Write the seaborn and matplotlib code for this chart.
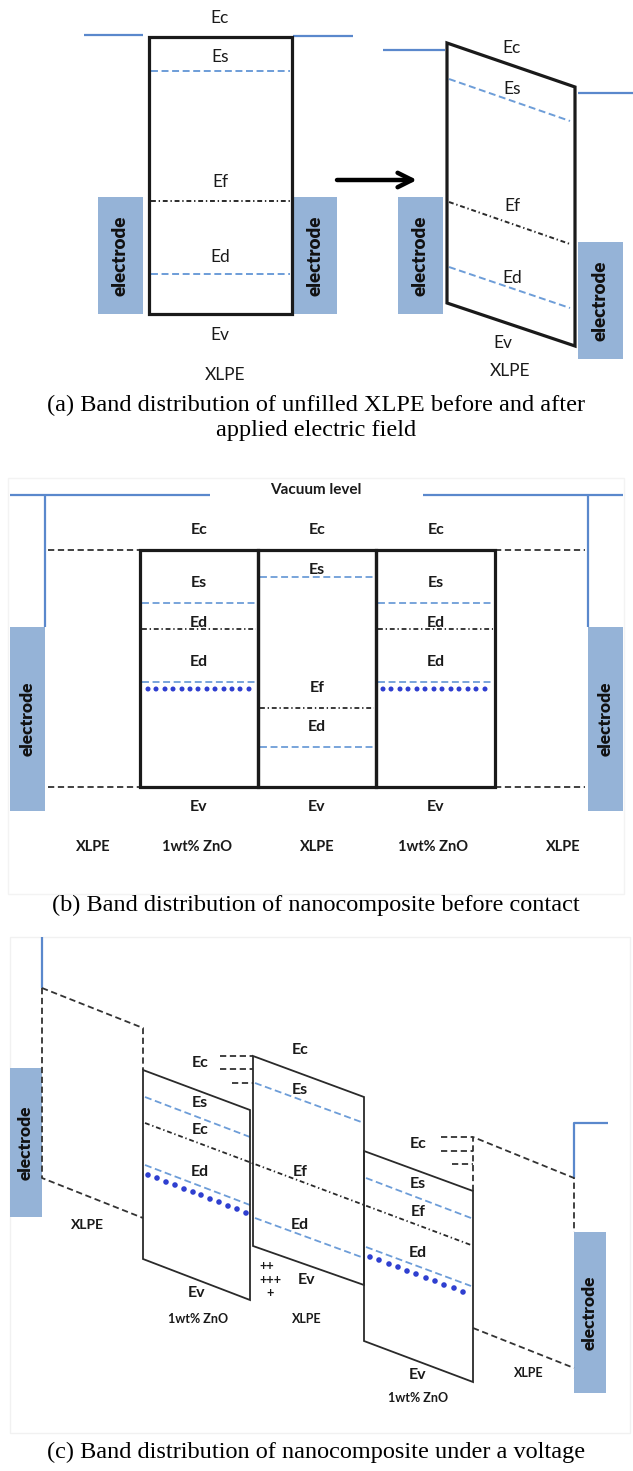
import matplotlib
matplotlib.use("Agg")
import matplotlib.pyplot as plt
import seaborn as sns
import pandas as pd
from matplotlib.patches import Rectangle, Polygon

# ---------------- data (pixel positions) ----------------
# Panel (a): unfilled XLPE before / after field
a_vac_lines = [[(84, 35), (143, 35)], [(293, 36), (353, 36)],
               [(383, 50), (445, 50)], [(578, 93), (633, 93)]]
a_boxes = [[(149, 37), (292, 37), (292, 314), (149, 314)],
           [(447, 43), (575, 87), (575, 346), (447, 303)]]
a_es_lines = [[(151, 71), (290, 71)], [(449, 79), (570, 121)]]
a_ef_lines = [[(151, 201), (290, 201)], [(449, 202), (570, 244)]]
a_ed_lines = [[(151, 274), (290, 274)], [(449, 267), (570, 308)]]
a_electrodes = [(98, 197, 45, 117), (293, 197, 44, 117),
                (398, 197, 45, 117), (578, 242, 45, 117)]
a_labels = ["Ec", "Es", "Ef", "Ed", "Ev", "XLPE",
            "Ec", "Es", "Ef", "Ed", "Ev", "XLPE"]
a_label_x = [220, 220, 220, 220, 220, 225, 512, 512, 512, 512, 503, 510]
a_label_y = [18, 57, 182, 257, 335, 375, 48, 89, 206, 278, 343, 371]
a_arrow = [(337, 180), (417, 180)]
a_caption = ["(a) Band distribution of unfilled XLPE before and after",
             "applied electric field"]
a_caption_y = [405, 430]

# Panel (b): nanocomposite before contact
b_vac_lines = [[(10, 495), (210, 495)], [(423, 495), (623, 495)],
               [(45, 495), (45, 627)], [(588, 495), (588, 627)]]
b_electrodes = [(10, 627, 35, 184), (588, 627, 35, 184)]
b_black_dash = [[(48, 550), (140, 550)], [(495, 550), (585, 550)],
                [(48, 787), (140, 787)], [(495, 787), (585, 787)]]
b_box_x = [140, 258, 376, 495]
b_box_y = [550, 787]
b_es_lines = [[(142, 603), (256, 603)], [(260, 577), (374, 577)], [(378, 603), (493, 603)]]
b_dashdot_lines = [[(142, 629), (256, 629)], [(260, 708), (374, 708)], [(378, 629), (493, 629)]]
b_ed_lines = [[(142, 682), (256, 682)], [(260, 747), (374, 747)], [(378, 682), (493, 682)]]
b_dots_x = [148, 156, 165, 173, 182, 190, 198, 207, 215, 224, 232, 240, 249,
            383, 391, 400, 408, 417, 425, 434, 442, 451, 459, 468, 476, 485]
b_dots_y = [689] * 26
b_labels = ["Ec", "Es", "Ed", "Ed", "Ev",
            "Ec", "Es", "Ef", "Ed", "Ev",
            "Ec", "Es", "Ed", "Ed", "Ev"]
b_label_x = [199] * 5 + [317] * 5 + [436] * 5
b_label_y = [530, 583, 623, 662, 807,
             530, 570, 688, 727, 807,
             530, 583, 623, 662, 807]
b_bottom = ["XLPE", "1wt% ZnO", "XLPE", "1wt% ZnO", "XLPE"]
b_bottom_x = [93, 197, 317, 433, 563]
b_bottom_y = 847
b_vacuum_text = ("Vacuum level", 316, 490)
b_caption = "(b) Band distribution of nanocomposite before contact"
b_caption_y = 905

# Panel (c): nanocomposite under a voltage
c_blue_lines = [[(42, 937), (42, 988)], [(608, 1123), (574, 1123), (574, 1178)]]
c_electrodes = [(10, 1068, 32, 149), (574, 1232, 32, 161)]
c_black_dash = [[(42, 988), (143, 1028), (143, 1070)],
                [(42, 988), (42, 1178), (143, 1218)],
                [(220, 1056), (253, 1056)], [(220, 1069), (253, 1069)],
                [(232, 1083), (253, 1083)],
                [(441, 1137), (473, 1137)], [(441, 1151), (473, 1151)],
                [(452, 1164), (473, 1164)],
                [(473, 1191), (473, 1137), (574, 1178), (574, 1232)],
                [(473, 1328), (574, 1368)]]
c_boxes = [[(143, 1070), (250, 1110), (250, 1300), (143, 1259)],
           [(253, 1056), (364, 1097), (364, 1285), (253, 1246)],
           [(364, 1151), (473, 1191), (473, 1382), (364, 1341)]]
c_es_lines = [[(145, 1097), (250, 1137)], [(255, 1083), (364, 1123)], [(366, 1178), (471, 1218)]]
c_ed_lines = [[(145, 1165), (250, 1205)], [(255, 1218), (364, 1258)], [(366, 1247), (471, 1286)]]
c_dashdot_line = [(145, 1123), (471, 1245)]
c_dots_x = [148, 157, 166, 175, 184, 193, 201, 210, 219, 228, 237, 246,
            370, 379, 389, 398, 407, 416, 426, 435, 444, 454, 463]
c_dots_y = [1175, 1178, 1182, 1185, 1189, 1192, 1195, 1199, 1202, 1206, 1209, 1213,
            1257, 1260, 1264, 1267, 1271, 1274, 1278, 1281, 1285, 1288, 1292]
c_labels = ["Ec", "Es", "Ec", "Ed", "Ev",
            "Ec", "Es", "Ef", "Ed", "Ev",
            "Ec", "Es", "Ef", "Ed", "Ev"]
c_label_x = [200, 200, 200, 200, 197,
             300, 300, 300, 300, 307,
             418, 418, 418, 418, 418]
c_label_y = [1063, 1103, 1130, 1172, 1293,
             1050, 1090, 1172, 1225, 1280,
             1144, 1184, 1212, 1253, 1375]
c_materials = ["XLPE", "1wt% ZnO", "XLPE", "1wt% ZnO", "XLPE"]
c_material_x = [87, 198, 307, 418, 529]
c_material_y = [1225, 1319, 1319, 1398, 1373]
c_plus = ["++", "+++", "+"]
c_plus_x = [267, 270, 270]
c_plus_y = [1266, 1280, 1293]
c_caption = "(c) Band distribution of nanocomposite under a voltage"
c_caption_y = 1452

# ---------------- styles ----------------
BLUE = "#5a88cc"
ELEC = "#95b3d7"
DBLUE = "#6d9dd8"
DOT = "#2f3fd0"
INK = "#1a1a1a"
DASHED = (0, (5, 2.6))
DASHDOT = (0, (3.5, 2, 1, 2))
BDASH = (0, (4.5, 2.6))
LABEL_FONT = ["Lato", "DejaVu Sans"]
SERIF = ["Liberation Serif", "DejaVu Serif"]
CAPTION_SIZE = 17.5

sns.set_theme(style="white")
plt.rcParams["font.family"] = LABEL_FONT
plt.rcParams["lines.scale_dashes"] = False
plt.rcParams["lines.solid_capstyle"] = "butt"

W, H = 633, 1471
fig = plt.figure(figsize=(W / 100, H / 100), dpi=100)
ax = fig.add_axes([0, 0, 1, 1])
ax.set_xlim(0, W)
ax.set_ylim(H, 0)
ax.axis("off")


def poly(points, **kw):
    xs = [p[0] for p in points]
    ys = [p[1] for p in points]
    ax.plot(xs, ys, **kw)


def electrode(rect, size):
    x, y, w, h = rect
    ax.add_patch(Rectangle((x, y), w, h, facecolor=ELEC, edgecolor="none", zorder=1))
    ax.text(x + w / 2, y + h / 2, "electrode", rotation=90, ha="center", va="center",
            fontsize=size, fontweight="heavy", color="#111111", zorder=5)


def labels(texts, xs, ys, size, weight="normal"):
    for t, x, y in zip(texts, xs, ys):
        ax.text(x, y, t, ha="center", va="center", fontsize=size, fontweight=weight,
                color=INK, zorder=6)


# faint frames around panels (b) and (c)
ax.add_patch(Rectangle((8, 478), 616, 416, fill=False, edgecolor="#f3f3f3", lw=1, zorder=0))
ax.add_patch(Rectangle((10, 937), 620, 496, fill=False, edgecolor="#f1f1f1", lw=1, zorder=0))

# ---------------- panel (a) ----------------
for r in a_electrodes:
    electrode(r, 13.5)
for seg in a_vac_lines:
    poly(seg, color=BLUE, lw=1.6, zorder=2)
for box in a_boxes:
    ax.add_patch(Polygon(box, closed=True, fill=False, edgecolor=INK, lw=2.3,
                         joinstyle="miter", zorder=4))
for seg in a_es_lines + a_ed_lines:
    poly(seg, color=DBLUE, lw=1.4, linestyle=DASHED, zorder=3)
for seg in a_ef_lines:
    poly(seg, color="#2a2a2a", lw=1.4, linestyle=DASHDOT, zorder=3)
ax.annotate("", xy=a_arrow[1], xytext=a_arrow[0],
            arrowprops=dict(arrowstyle="->", lw=3.2, color="black", mutation_scale=26,
                            shrinkA=0, shrinkB=0))
labels(a_labels, a_label_x, a_label_y, 12.5)
for t, y in zip(a_caption, a_caption_y):
    ax.text(316, y, t, ha="center", va="center", fontsize=CAPTION_SIZE, family=SERIF,
            color="black")

# ---------------- panel (b) ----------------
for r in b_electrodes:
    electrode(r, 12.5)
for seg in b_vac_lines:
    poly(seg, color=BLUE, lw=1.6, zorder=2)
for seg in b_black_dash:
    poly(seg, color="#333333", lw=1.3, linestyle=BDASH, zorder=3)
for x0, x1 in zip(b_box_x[:-1], b_box_x[1:]):
    ax.add_patch(Rectangle((x0, b_box_y[0]), x1 - x0, b_box_y[1] - b_box_y[0], fill=False,
                           edgecolor=INK, lw=2.3, joinstyle="miter", zorder=4))
for seg in b_es_lines + b_ed_lines:
    poly(seg, color=DBLUE, lw=1.3, linestyle=DASHED, zorder=3)
for seg in b_dashdot_lines:
    poly(seg, color="#2a2a2a", lw=1.3, linestyle=DASHDOT, zorder=3)
sns.scatterplot(data=pd.DataFrame({"x": b_dots_x, "y": b_dots_y}), x="x", y="y", ax=ax,
                color=DOT, s=13, edgecolor="none", zorder=5, legend=False)
labels(b_labels, b_label_x, b_label_y, 11.5, "bold")
labels(b_bottom, b_bottom_x, [b_bottom_y] * len(b_bottom), 10.5, "bold")
ax.text(b_vacuum_text[1], b_vacuum_text[2], b_vacuum_text[0], ha="center", va="center",
        fontsize=11, fontweight="bold", color=INK)
ax.text(316, b_caption_y, b_caption, ha="center", va="center", fontsize=CAPTION_SIZE,
        family=SERIF, color="black")

# ---------------- panel (c) ----------------
for r in c_electrodes:
    electrode(r, 12.5)
for seg in c_blue_lines:
    poly(seg, color=BLUE, lw=1.6, zorder=2)
for seg in c_black_dash:
    poly(seg, color="#333333", lw=1.3, linestyle=BDASH, zorder=3)
for box in c_boxes:
    ax.add_patch(Polygon(box, closed=True, fill=False, edgecolor="#2a2a2a", lw=1.3,
                         joinstyle="miter", zorder=4))
for seg in c_es_lines + c_ed_lines:
    poly(seg, color=DBLUE, lw=1.3, linestyle=DASHED, zorder=3)
poly(c_dashdot_line, color="#2a2a2a", lw=1.3, linestyle=DASHDOT, zorder=3)
sns.scatterplot(data=pd.DataFrame({"x": c_dots_x, "y": c_dots_y}), x="x", y="y", ax=ax,
                color=DOT, s=16, edgecolor="none", zorder=5, legend=False)
labels(c_labels, c_label_x, c_label_y, 11.5, "bold")
labels(c_materials[:1], c_material_x[:1], c_material_y[:1], 10, "bold")
labels(c_materials[1:], c_material_x[1:], c_material_y[1:], 9, "bold")
labels(c_plus, c_plus_x, c_plus_y, 9, "bold")
ax.text(316, c_caption_y, c_caption, ha="center", va="center", fontsize=CAPTION_SIZE,
        family=SERIF, color="black")

ax.set_xlim(0, W)
ax.set_ylim(H, 0)
ax.axis("off")
fig.savefig("out.png", dpi=100)
